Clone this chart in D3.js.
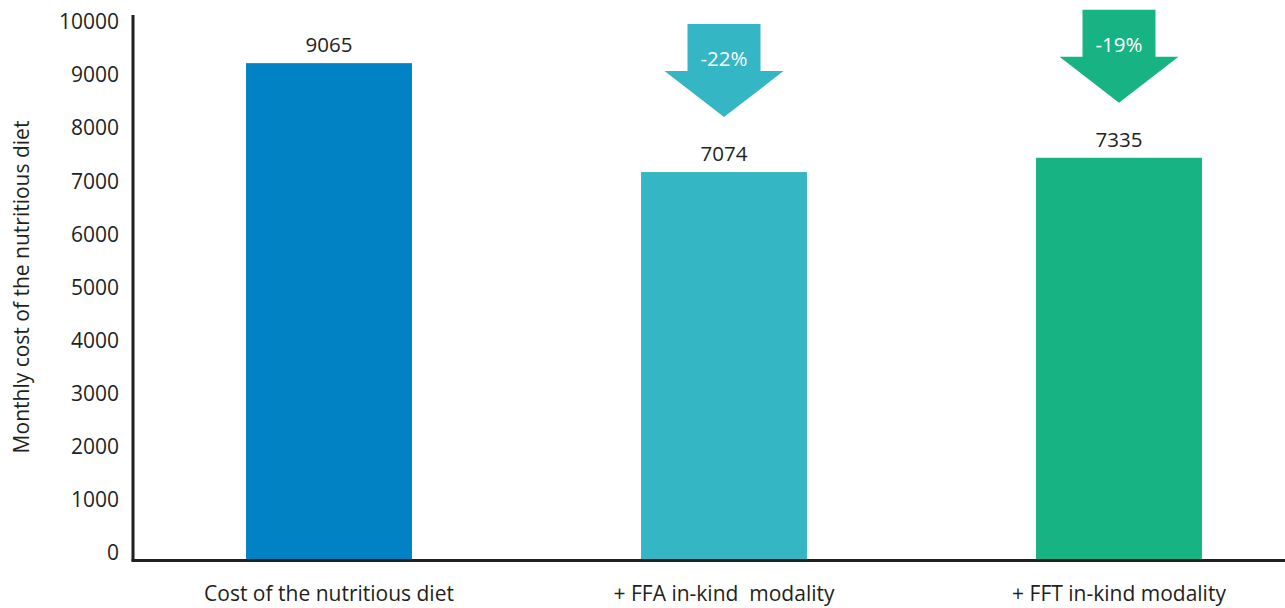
<!DOCTYPE html>
<html><head><meta charset="utf-8">
<script src="https://cdn.jsdelivr.net/npm/d3@7"></script>
<style>body{margin:0;background:#fff}svg{display:block}text{font-family:"Open Sans",sans-serif;fill:#231f20;white-space:pre}</style>
</head><body><svg id="c" width="1285" height="608"></svg>
<script>
const categories = ["Cost of the nutritious diet", "+ FFA in-kind  modality", "+ FFT in-kind modality"];
const values = [9065, 7074, 7335];
const changes = [null, "-22%", "-19%"];
const colors = ["#0082c4", "#35b6c4", "#18b383"];
const yTicks = [0,1000,2000,3000,4000,5000,6000,7000,8000,9000,10000];
const yTitle = "Monthly cost of the nutritious diet";

const svg = d3.select("#c");
const x = d3.scaleBand().domain(categories).range([131.5, 1316.5]).paddingInner(0.58).paddingOuter(0.29);
const y = d3.scaleLinear().domain([0, 10000]).range([559, 12]);
const yLab = d3.scaleLinear().domain([0, 10000]).range([553, 22]);

// bars
svg.selectAll("rect.bar").data(values).enter().append("rect")
  .attr("class","bar")
  .attr("x",(d,i)=>x(categories[i])).attr("width",x.bandwidth())
  .attr("y",d=>y(d)).attr("height",d=>y(0)-y(d))
  .attr("fill",(d,i)=>colors[i]);

// value labels
svg.selectAll("text.val").data(values).enter().append("text")
  .attr("class","val").attr("text-anchor","middle").attr("font-size",20.5)
  .attr("x",(d,i)=>x(categories[i])+x.bandwidth()/2).attr("y",d=>y(d)-11)
  .text(d=>d);

// arrows
const rectW=73, rectH=47, headW=119, headH=46, gap=55;
changes.forEach((c,i)=>{
  if(!c) return;
  const cx = x(categories[i])+x.bandwidth()/2;
  const tip = y(values[i]) - gap;
  const top = tip - headH - rectH;
  const mid = tip - headH;
  const pts = [[cx-rectW/2,top],[cx+rectW/2,top],[cx+rectW/2,mid],[cx+headW/2,mid],[cx,tip],[cx-headW/2,mid],[cx-rectW/2,mid]];
  svg.append("path").attr("d", d3.line()(pts)+"Z").attr("fill",colors[i]);
  svg.append("text").attr("x",cx).attr("y",top+42).attr("text-anchor","middle")
    .attr("font-size",20.5).style("fill","#fff").text(c);
});

// y axis labels
const ya = svg.append("g").attr("transform","translate(120,0)")
  .call(d3.axisLeft(yLab).tickValues(yTicks).tickSize(0).tickFormat(d3.format("d")));
ya.select(".domain").remove();
ya.selectAll("text").attr("font-size",21).attr("font-family","Open Sans").style("fill","#231f20").attr("x",-1);

// axis lines
svg.append("line").attr("x1",133).attr("x2",133).attr("y1",15).attr("y2",y(0)+2)
  .attr("stroke","#231f20").attr("stroke-width",3);
svg.append("line").attr("x1",131.5).attr("x2",1285).attr("y1",y(0)+1.5).attr("y2",y(0)+1.5)
  .attr("stroke","#231f20").attr("stroke-width",3);

// x labels
const xa = svg.append("g").attr("transform",`translate(0,${y(0)})`)
  .call(d3.axisBottom(x).tickSize(0));
xa.select(".domain").remove();
xa.selectAll("text").attr("font-size",21).attr("font-family","Open Sans").style("fill","#231f20").attr("y",27).attr("dy","0.71em");

// y title
svg.append("text").attr("transform","translate(29,287) rotate(-90)").attr("text-anchor","middle")
  .attr("font-size",21).text(yTitle);
</script></body></html>
